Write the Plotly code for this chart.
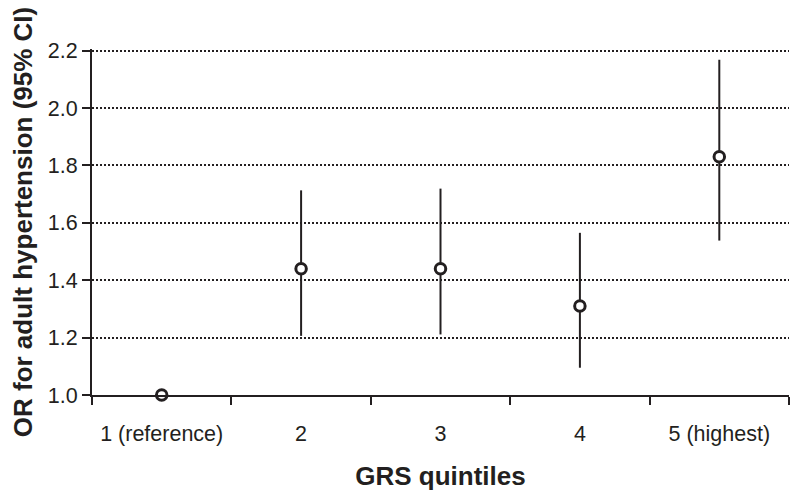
import plotly.graph_objects as go

categories = ["1 (reference)", "2", "3", "4", "5 (highest)"]
odds_ratio = [1.00, 1.44, 1.44, 1.31, 1.83]
ci_lower = [1.00, 1.206, 1.211, 1.095, 1.538]
ci_upper = [1.00, 1.713, 1.719, 1.565, 2.168]
y_ticks = [1.0, 1.2, 1.4, 1.6, 1.8, 2.0, 2.2]

INK = "#231f20"
FONT = "Liberation Sans, Arial, sans-serif"

err_plus = [u - o for u, o in zip(ci_upper, odds_ratio)]
err_minus = [o - l for o, l in zip(odds_ratio, ci_lower)]

fig = go.Figure()
fig.add_trace(go.Scatter(
    x=categories, y=odds_ratio, mode="markers",
    marker=dict(symbol="circle", size=10.5, color="white",
                line=dict(color=INK, width=3)),
    error_y=dict(type="data", symmetric=False, array=err_plus,
                 arrayminus=err_minus, color=INK, thickness=2, width=0),
    cliponaxis=False, showlegend=False,
))

fig.update_layout(
    width=800, height=498,
    margin=dict(l=84, r=19, t=41, b=111),
    paper_bgcolor="white", plot_bgcolor="white",
    font=dict(family=FONT, color=INK, size=21),
    xaxis=dict(
        type="category", range=[-0.5, 4.5], automargin=False,
        showline=True, linecolor=INK, linewidth=2,
        ticks="outside", tickson="boundaries", ticklen=8, tickwidth=2, tickcolor=INK,
        showgrid=False, ticklabelstandoff=18,
        tickfont=dict(size=21.5, color=INK, family=FONT),
        title=dict(text="<b>GRS quintiles</b>", font=dict(size=26, color=INK, family=FONT),
                   standoff=22),
    ),
    yaxis=dict(
        range=[1.0, 2.2055], tickvals=y_ticks, ticktext=[f"{v:.1f}" for v in y_ticks],
        automargin=False,
        showline=True, linecolor=INK, linewidth=2,
        ticks="outside", ticklen=8, tickwidth=2, tickcolor=INK,
        showgrid=True, gridcolor=INK, gridwidth=2, griddash="2px,2px",
        zeroline=False,
        tickfont=dict(size=21.5, color=INK, family=FONT),
        title=dict(text="<b>OR for adult hypertension (95% CI)</b>",
                   font=dict(size=26, color=INK, family=FONT), standoff=12),
    ),
)

fig.write_html("out.html")
